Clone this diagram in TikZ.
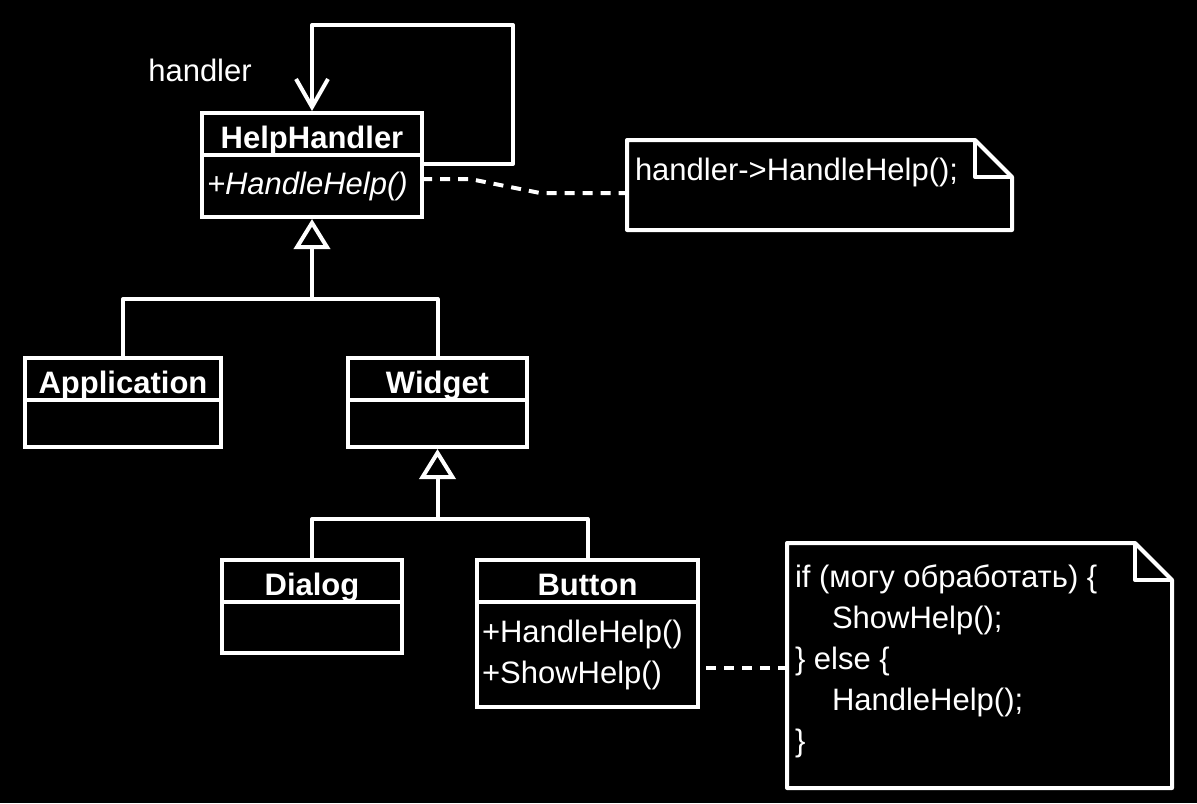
\documentclass[tikz,border=0pt]{standalone}
\usepackage{fontspec}
\setmainfont{Liberation Sans}
\usetikzlibrary{calc,positioning,arrows.meta}
\newcommand{\umlfont}{\fontsize{15.5pt}{20.5pt}\selectfont}
\tikzset{
    uml title/.style={
        draw=white,line width=2pt,outer sep=0pt,
        minimum height=21pt,inner sep=0pt,
        text height=17.5pt,text depth=3.5pt,
        font=\umlfont\bfseries,text=white
    },
    uml body/.style={
        draw=white,line width=2pt,outer sep=0pt,
        inner xsep=2.5pt,inner ysep=0pt,
        align=left,text width=#1,
        font=\umlfont,text=white
    },
    note text/.style={
        outer sep=0pt,inner xsep=4pt,align=left,
        font=\umlfont,text=white
    },
    note box/.style={draw=white,line width=2pt,line join=round},
    note link/.style={white,line width=2pt,dash pattern=on 5pt off 4pt},
    gen/.style={white,line width=2pt,line join=round,
        -{Triangle[length=15pt,width=18pt,fill=black]}},
    gen line/.style={white,line width=2pt,line join=round},
    assoc/.style={white,line width=2pt,line join=round,
        -{Straight Barb[length=14pt,width=16pt]}},
}

\begin{document}
\begin{tikzpicture}[x=0.5pt,y=-0.5pt]
	\fill[black] (0,0) rectangle (1197,803);
	\useasboundingbox (0,0) rectangle (1197,803);

	% classes
	\node[uml title,minimum width=110pt,anchor=north] (hh) at (312,113) {HelpHandler};
	\node[uml body=105pt,minimum height=31pt,anchor=north] (hhm) at (hh.south) {\textit{+HandleHelp()}};

	\node[uml title,minimum width=98pt,anchor=north] (app) at (123,358) {Application};
	\node[uml body=93pt,minimum height=23.5pt,anchor=north] (appm) at (app.south) {};

	\node[uml title,minimum width=89.5pt,anchor=north] (wid) at (437.5,358) {Widget};
	\node[uml body=84.5pt,minimum height=23.5pt,anchor=north] (widm) at (wid.south) {};

	\node[uml title,minimum width=90pt,anchor=north] (dlg) at (312,560) {Dialog};
	\node[uml body=85pt,minimum height=25.5pt,anchor=north] (dlgm) at (dlg.south) {};

	\node[uml title,minimum width=110.5pt,anchor=north] (btn) at (587.5,560) {Button};
	\node[uml body=105.5pt,minimum height=52.5pt,anchor=north] (btnm) at (btn.south) {+HandleHelp()\\+ShowHelp()};

	% self association
	\coordinate (loop) at (513,25);
	\draw[assoc] ([yshift=11pt]hhm.east) -| (loop) -| ([yshift=1pt]hh.north);
	\node[font=\umlfont,text=white] (role) at (200,70) {handler};

	% generalizations
	\coordinate (j1) at ($(hhm.south)+(0,82)$);
	\draw[gen line] (app.north) |- (j1) -| (wid.north);
	\draw[gen] (j1) -- ([yshift=-1pt]hhm.south);

	\coordinate (j2) at ($(widm.south)+(0,72)$);
	\draw[gen line] (dlg.north) |- (j2) -| (btn.north);
	\draw[gen] (j2) -- ([yshift=-1pt]widm.south);

	% notes
	\node[note text,inner ysep=9pt,anchor=north west] (n1) at (627,140) {handler->HandleHelp();};
	\draw[note box] (n1.north west) -- ++(348,0) -- ++(37,37) -- ++(0,53) -- ++(-385,0) -- cycle;
	\draw[note box] ($(n1.north west)+(348,0)$) -- ++(0,37) -- ++(37,0);

	\node[note text,inner ysep=11pt,anchor=north west] (n2) at (787,543) {if (могу обработать) \{\\
		\hspace*{18.5pt}ShowHelp();\\
		\} else \{\\
		\hspace*{18.5pt}HandleHelp();\\
		\}};
	\draw[note box] (n2.north west) -- ++(348,0) -- ++(37,37) -- ++(0,208) -- ++(-385,0) -- cycle;
	\draw[note box] ($(n2.north west)+(348,0)$) -- ++(0,37) -- ++(37,0);

	\draw[note link] ([yshift=3.5pt]hhm.east) -- ++(48,0) -- ($(n1.north west)+(-87,53)$) -- ($(n1.north west)+(0,53)$);
	\coordinate (b2) at ([yshift=-6.75pt]btnm.east);
	\draw[note link,shorten <=4pt] (b2) -- (b2 -| n2.west);
\end{tikzpicture}
\end{document}
